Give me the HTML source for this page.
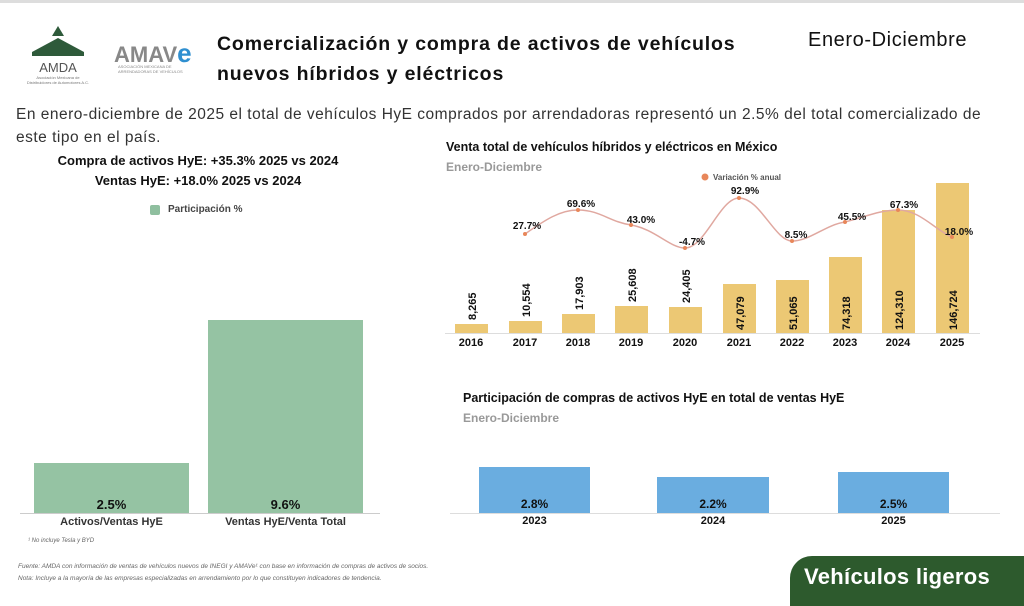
<!DOCTYPE html>
<html><head><meta charset="utf-8"><style>
body{margin:0;width:1024px;height:597px;background:#fff;overflow:hidden;position:relative;font-family:"Liberation Sans",sans-serif;color:#111}
.a{position:absolute;white-space:nowrap}
.b{font-weight:bold}
</style></head><body>
<div class="a" style="left:0;top:0;width:1024px;height:3px;background:#ddd"></div>
<svg class="a" style="left:14px;top:22px" width="90" height="62">
<polygon points="44,4 38,14 50,14" fill="#2e5a3a"/>
<polygon points="18,30 44,16 70,30" fill="#2e5a3a"/>
<rect x="18" y="30" width="52" height="4" fill="#2e5a3a"/>
<text x="44" y="50" font-size="13" text-anchor="middle" font-family="Liberation Sans" fill="#555">AMDA</text>
<text x="44" y="57" font-size="4" text-anchor="middle" fill="#777">Asociación Mexicana de</text>
<text x="44" y="62" font-size="4" text-anchor="middle" fill="#777">Distribuidores de Automotores A.C.</text>
</svg>
<div class="a b" style="left:114px;top:38px;font-size:22px;color:#888">AMAV<span style="color:#2f8fd0;font-size:26px">e</span></div>
<div class="a" style="left:118px;top:64px;font-size:4px;color:#888">ASOCIACIÓN MEXICANA DE<br>ARRENDADORAS DE VEHÍCULOS</div>
<div class="a b" style="left:217px;top:29px;font-size:19.5px;line-height:30px;letter-spacing:0.85px">Comercialización y compra de activos de vehículos<br>nuevos híbridos y eléctricos</div>
<div class="a" style="left:808px;top:29px;font-size:20px;letter-spacing:0.6px">Enero-Diciembre</div>
<div class="a" style="left:16px;top:103px;font-size:15.5px;line-height:23px;color:#333;letter-spacing:0.5px">En enero-diciembre de 2025 el total de vehículos HyE comprados por arrendadoras representó un 2.5% del total comercializado de<br>este tipo en el país.</div>
<div class="a b" style="left:0;width:396px;text-align:center;top:151px;font-size:13px;line-height:20px">Compra de activos HyE: +35.3% 2025 vs 2024<br>Ventas HyE: +18.0% 2025 vs 2024</div>
<div class="a" style="left:150px;top:205px;width:10px;height:10px;background:#8fbf9f;border-radius:2px"></div>
<div class="a b" style="left:168px;top:204px;font-size:10px;color:#444">Participación %</div>
<div class="a" style="left:34px;top:463px;width:155px;height:50px;background:#95c3a3"></div>
<div class="a" style="left:208px;top:320px;width:155px;height:193px;background:#95c3a3"></div>
<div class="a" style="left:20px;top:513px;width:360px;height:1px;background:#ccc"></div>
<div class="a b" style="left:34px;width:155px;text-align:center;top:497px;font-size:13px">2.5%</div>
<div class="a b" style="left:208px;width:155px;text-align:center;top:497px;font-size:13px">9.6%</div>
<div class="a b" style="left:34px;width:155px;text-align:center;top:516px;font-size:11px;color:#333">Activos/Ventas HyE</div>
<div class="a b" style="left:208px;width:155px;text-align:center;top:516px;font-size:11px;color:#333">Ventas HyE/Venta Total</div>
<div class="a" style="left:28px;top:538px;font-size:6px;font-style:italic;color:#666">¹ No incluye Tesla y BYD</div>
<div class="a" style="left:18px;top:561px;font-size:6.5px;font-style:italic;color:#666;line-height:12px">Fuente: AMDA con información de ventas de vehículos nuevos de INEGI y AMAVe¹ con base en información de compras de activos de socios.<br>Nota: Incluye a la mayoría de las empresas especializadas en arrendamiento por lo que constituyen indicadores de tendencia.</div>
<div class="a b" style="left:446px;top:140px;font-size:12.5px">Venta total de vehículos híbridos y eléctricos en México</div>
<div class="a b" style="left:446px;top:160px;font-size:12px;color:#999">Enero-Diciembre</div>
<svg class="a" style="left:440px;top:165px" width="560" height="190" font-family="Liberation Sans" font-weight="bold">
<circle cx="265" cy="12" r="3.5" fill="#e8875a"/>
<text x="273" y="15" font-size="8" fill="#555">Variación % anual</text>
<g fill="#ecc874">
<rect x="15" y="159" width="33" height="9"/>
<rect x="69" y="156" width="33" height="12"/>
<rect x="122" y="149" width="33" height="19"/>
<rect x="175" y="141" width="33" height="27"/>
<rect x="229" y="142" width="33" height="26"/>
<rect x="283" y="119" width="33" height="49"/>
<rect x="336" y="115" width="33" height="53"/>
<rect x="389" y="92" width="33" height="76"/>
<rect x="442" y="45" width="33" height="123"/>
<rect x="496" y="18" width="33" height="150"/>
</g>
<line x1="5" y1="168.5" x2="540" y2="168.5" stroke="#ddd"/>
<g font-size="11" fill="#111" text-anchor="middle">
<text x="31" y="181">2016</text><text x="85" y="181">2017</text><text x="138" y="181">2018</text><text x="191" y="181">2019</text><text x="245" y="181">2020</text><text x="299" y="181">2021</text><text x="352" y="181">2022</text><text x="405" y="181">2023</text><text x="458" y="181">2024</text><text x="512" y="181">2025</text>
</g>
<g font-size="11" fill="#111">
<text transform="translate(36,155) rotate(-90)">8,265</text>
<text transform="translate(90,152) rotate(-90)">10,554</text>
<text transform="translate(143,145) rotate(-90)">17,903</text>
<text transform="translate(196,137) rotate(-90)">25,608</text>
<text transform="translate(250,138) rotate(-90)">24,405</text>
<text transform="translate(304,165) rotate(-90)">47,079</text>
<text transform="translate(357,165) rotate(-90)">51,065</text>
<text transform="translate(410,165) rotate(-90)">74,318</text>
<text transform="translate(463,165) rotate(-90)">124,310</text>
<text transform="translate(517,165) rotate(-90)">146,724</text>
</g>
<path d="M85,69 C105,55 120,45 138,45 C160,45 170,57 191,60 C215,64 230,83 245,83 C265,83 280,33 299,33 C320,33 335,76 352,76 C370,76 385,60 405,57 C425,52 440,45 458,45 C480,45 495,65 512,72" fill="none" stroke="#e0a8a0" stroke-width="1.5"/>
<g fill="#e8875a"><circle cx="85" cy="69" r="2"/><circle cx="138" cy="45" r="2"/><circle cx="191" cy="60" r="2"/><circle cx="245" cy="83" r="2"/><circle cx="299" cy="33" r="2"/><circle cx="352" cy="76" r="2"/><circle cx="405" cy="57" r="2"/><circle cx="458" cy="45" r="2"/><circle cx="512" cy="72" r="2"/></g>
<g font-size="10" fill="#111" text-anchor="middle">
<text x="87" y="64">27.7%</text><text x="141" y="42">69.6%</text><text x="201" y="58">43.0%</text><text x="252" y="80">-4.7%</text><text x="305" y="29">92.9%</text><text x="356" y="73">8.5%</text><text x="412" y="55">45.5%</text><text x="464" y="43">67.3%</text><text x="519" y="70">18.0%</text>
</g>
</svg>
<div class="a b" style="left:463px;top:391px;font-size:12.5px">Participación de compras de activos HyE en total de ventas HyE</div>
<div class="a b" style="left:463px;top:411px;font-size:12px;color:#999">Enero-Diciembre</div>
<div class="a" style="left:479px;top:467px;width:111px;height:46px;background:#6aade0"></div>
<div class="a" style="left:657px;top:477px;width:112px;height:36px;background:#6aade0"></div>
<div class="a" style="left:838px;top:472px;width:111px;height:41px;background:#6aade0"></div>
<div class="a" style="left:450px;top:513px;width:550px;height:1px;background:#ddd"></div>
<div class="a b" style="left:479px;width:111px;text-align:center;top:497px;font-size:12px">2.8%</div>
<div class="a b" style="left:657px;width:112px;text-align:center;top:497px;font-size:12px">2.2%</div>
<div class="a b" style="left:838px;width:111px;text-align:center;top:497px;font-size:12px">2.5%</div>
<div class="a b" style="left:479px;width:111px;text-align:center;top:515px;font-size:11px">2023</div>
<div class="a b" style="left:657px;width:112px;text-align:center;top:515px;font-size:11px">2024</div>
<div class="a b" style="left:838px;width:111px;text-align:center;top:515px;font-size:11px">2025</div>
<div class="a" style="left:790px;top:556px;width:240px;height:50px;background:#2d5a2d;border-radius:22px 0 0 0"></div>
<div class="a b" style="left:804px;top:564px;font-size:22px;color:#fff;letter-spacing:0.3px">Vehículos ligeros</div>
</body></html>
